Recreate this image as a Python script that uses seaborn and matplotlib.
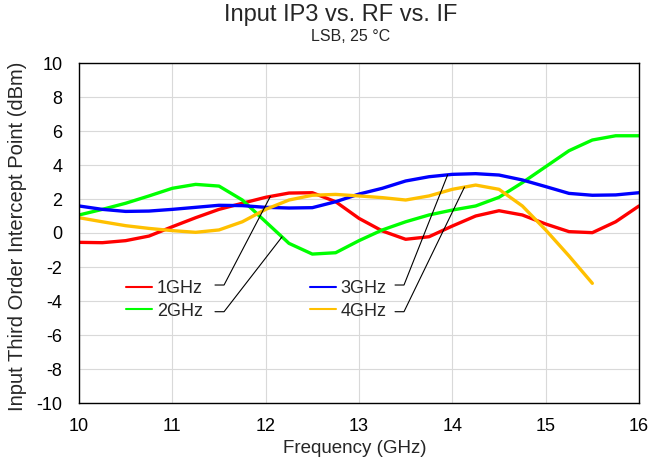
import numpy as np
import pandas as pd
import seaborn as sns
import matplotlib.pyplot as plt

# values, every 0.25 GHz
freq = [10.0, 10.25, 10.5, 10.75, 11.0, 11.25, 11.5, 11.75, 12.0, 12.25, 12.5, 12.75,
        13.0, 13.25, 13.5, 13.75, 14.0, 14.25, 14.5, 14.75, 15.0, 15.25, 15.5, 15.75, 16.0]
iip3_1ghz = [-0.55, -0.57, -0.45, -0.18, 0.37, 0.9, 1.39, 1.75, 2.1, 2.35, 2.37, 1.84,
             0.86, 0.12, -0.37, -0.22, 0.41, 1.0, 1.31, 1.06, 0.53, 0.08, 0.02, 0.66, 1.59]
iip3_2ghz = [1.06, 1.39, 1.75, 2.18, 2.63, 2.86, 2.76, 1.94, 0.66, -0.61, -1.24, -1.16,
             -0.45, 0.18, 0.66, 1.06, 1.35, 1.59, 2.1, 2.96, 3.9, 4.84, 5.47, 5.72, 5.72]
iip3_3ghz = [1.59, 1.39, 1.27, 1.29, 1.39, 1.51, 1.63, 1.61, 1.51, 1.47, 1.49, 1.84,
             2.29, 2.63, 3.06, 3.31, 3.45, 3.49, 3.41, 3.12, 2.73, 2.33, 2.22, 2.24, 2.37]
# 4 GHz stops at 15.5 GHz
iip3_4ghz = [0.9, 0.66, 0.43, 0.27, 0.14, 0.04, 0.18, 0.66, 1.39, 1.94, 2.22, 2.27,
             2.18, 2.08, 1.94, 2.18, 2.57, 2.82, 2.57, 1.59, 0.18, -1.35, -2.96]

labels = ["1GHz", "2GHz", "3GHz", "4GHz"]
colors = ["#FF0000", "#00FF00", "#0000FF", "#FFC000"]
# x position on each curve where the leader line ends
leader_x = [12.05, 12.175, 13.95, 14.13]

series = [iip3_1ghz, iip3_2ghz, iip3_3ghz, iip3_4ghz]
rows = []
for lab, vals in zip(labels, series):
    for f, v in zip(freq, vals):
        rows.append({"freq": f, "iip3": v, "if": lab})
df = pd.DataFrame(rows)

sns.set_style("white")
plt.rcParams["font.family"] = ["Liberation Sans", "DejaVu Sans"]
plt.rcParams["axes.unicode_minus"] = False

fig = plt.figure(figsize=(6.55, 4.72), dpi=100)
ax = fig.add_axes([79 / 655, 1 - 403 / 472, 560 / 655, 340 / 472])

sns.lineplot(data=df, x="freq", y="iip3", hue="if", palette=colors,
             estimator=None, sort=False, linewidth=2.4, ax=ax,
             solid_joinstyle="round", solid_capstyle="round")

ax.set_xlim(10, 16)
ax.set_ylim(-10, 10)
ax.set_xticks(range(10, 17))
ax.set_yticks(range(-10, 11, 2))
ax.grid(True, color="#D9D9D9", linewidth=0.8)
ax.set_axisbelow(True)
for sp in ax.spines.values():
    sp.set_color("black")
    sp.set_linewidth(1.0)
ax.tick_params(length=0, labelsize=13, colors="black")
ax.tick_params(axis="x", pad=11)
ax.tick_params(axis="y", pad=12)

ax.set_xlabel("Frequency (GHz)", fontsize=13.5, va="top")
ax.xaxis.set_label_coords(0.492, -0.11)
ax.set_ylabel("Input Third Order Intercept Point (dBm)", fontsize=14.5)
ax.yaxis.set_label_coords(-0.092, 0.49)

leg = ax.legend(ncol=2, loc="center left", bbox_to_anchor=(0.0839, 0.303),
                frameon=False, fontsize=13, borderpad=0, borderaxespad=0,
                handlelength=1.44, handletextpad=0.28, columnspacing=5.9,
                labelspacing=0.3)
for ln in leg.get_lines():
    ln.set_linewidth(1.5)

# leader lines from the labels to the curves
elbows = [(11.457, 11.554, -3.06), (11.457, 11.554, -4.63),
          (13.386, 13.482, -3.06), (13.386, 13.482, -4.63)]
for (x0, x1, y0), lx, vals in zip(elbows, leader_x, series):
    ly = np.interp(lx, freq[:len(vals)], vals)
    ax.plot([x0, x1, lx], [y0, y0, ly], color="black", linewidth=0.8)

fig.text(341 / 655, 1 - 20.7 / 472, "Input IP3 vs. RF vs. IF", fontsize=17,
         ha="center", va="baseline")
fig.text(351 / 655, 1 - 40.7 / 472, "LSB, 25 °C", fontsize=11.5,
         ha="center", va="baseline")

fig.savefig("out.png", dpi=100)
